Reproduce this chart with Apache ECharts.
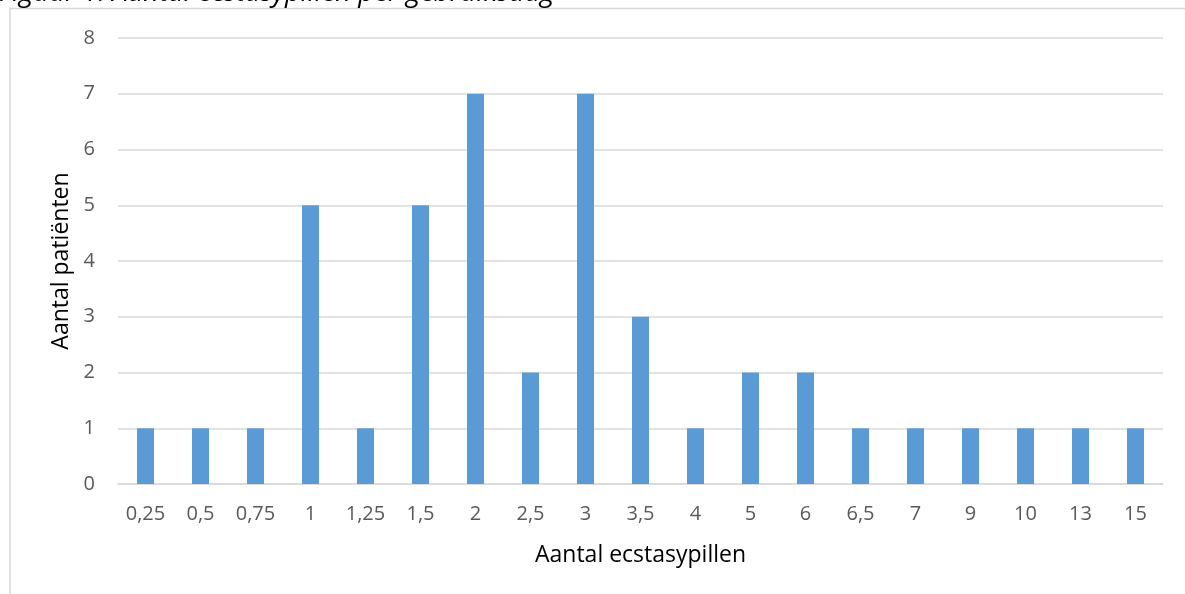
<!DOCTYPE html>
<html>
<head>
<meta charset="utf-8">
<script src="https://cdn.jsdelivr.net/npm/echarts@6/dist/echarts.min.js"></script>
<style>
  html, body { margin: 0; padding: 0; background: #fff; }
  #chart { width: 1185px; height: 594px; }
</style>
</head>
<body>
<div id="chart"></div>
<script>
  // aantal pillen per gebruiksdag
  var categories = ['0,25', '0,5', '0,75', '1', '1,25', '1,5', '2', '2,5', '3', '3,5', '4', '5', '6', '6,5', '7', '9', '10', '13', '15'];
  var patienten = [1, 1, 1, 5, 1, 5, 7, 2, 7, 3, 1, 2, 2, 1, 1, 1, 1, 1, 1];

  var chart = echarts.init(document.getElementById('chart'));
  var font = 'Open Sans';

  chart.setOption({
    backgroundColor: '#fff',
    animation: false,
    graphic: [
      {
        type: 'rect',
        shape: { x: 10, y: 8.5, width: 1200, height: 620 },
        style: { fill: 'none', stroke: '#d9d9d9', lineWidth: 1.5 },
        silent: true
      },
      {
        type: 'text',
        x: -1,
        y: -6.5,
        style: {
          text: 'Figuur 1. Aantal ecstasypillen per gebruiksdag',
          fontStyle: 'italic',
          fontSize: 27.5,
          fontFamily: font,
          fill: '#000',
          verticalAlign: 'middle'
        }
      }
    ],
    grid: { left: 118, right: 22, top: 38, bottom: 110 },
    xAxis: {
      type: 'category',
      data: categories,
      name: 'Aantal ecstasypillen',
      nameLocation: 'middle',
      nameGap: 60,
      nameTextStyle: { color: '#000', fontSize: 23, fontFamily: font },
      axisLine: { lineStyle: { color: '#d9d9d9', width: 1.5 } },
      axisTick: { show: false },
      axisLabel: { color: '#595959', fontSize: 20, fontFamily: font, margin: 20 }
    },
    yAxis: {
      type: 'value',
      min: 0,
      max: 8,
      interval: 1,
      name: 'Aantal patiënten',
      nameLocation: 'middle',
      nameGap: 45,
      nameTextStyle: { color: '#000', fontSize: 23, fontFamily: font },
      axisLine: { show: false },
      axisTick: { show: false },
      axisLabel: { color: '#595959', fontSize: 20, fontFamily: font, margin: 23 },
      splitLine: { lineStyle: { color: '#d9d9d9', width: 1.5 } }
    },
    series: [{
      type: 'bar',
      data: patienten,
      barWidth: 17,
      itemStyle: { color: '#5b9bd5' }
    }]
  });
</script>
</body>
</html>
